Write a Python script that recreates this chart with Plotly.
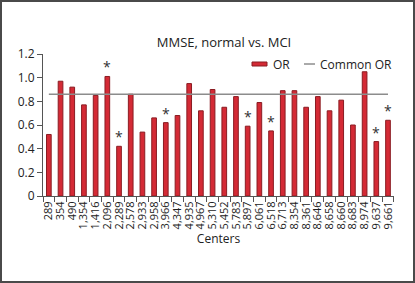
import plotly.graph_objects as go

centers = ["289", "354", "490", "1,354", "1,416", "2,096", "2,289", "2,578", "2,933", "2,958",
           "3,966", "4,347", "4,935", "4,967", "5,310", "5,452", "5,783", "5,897", "6,061", "6,518",
           "6,713", "8,354", "8,361", "8,646", "8,658", "8,660", "8,683", "8,974", "9,637", "9,661"]
odds_ratio = [0.52, 0.97, 0.92, 0.77, 0.85, 1.01, 0.42, 0.86, 0.54, 0.66,
              0.62, 0.68, 0.95, 0.72, 0.90, 0.75, 0.84, 0.59, 0.79, 0.55,
              0.89, 0.89, 0.75, 0.84, 0.72, 0.81, 0.60, 1.05, 0.46, 0.64]
significant = [False, False, False, False, False, True, True, False, False, False,
               True, False, False, False, False, False, False, True, False, True,
               False, False, False, False, False, False, False, False, True, True]
common_or = 0.86

y_ticks = [0, 0.2, 0.4, 0.6, 0.8, 1.0, 1.2]
y_tick_text = ["0", "0.2", "0.4", "0.6", "0.8", "1.0", "1.2"]

W, H = 415, 283
L, R, T, B = 43, 21, 54, 87
pw, ph = W - L - R, H - T - B

BAR_COLOR = "#d42a35"
BAR_EDGE = "#8a1c22"
LINE_COLOR = "#8c8c8c"

def px_x(p):
    return (p - L) / pw

def px_y(p):
    return (H - B - p) / ph

fig = go.Figure()
fig.add_trace(go.Bar(
    x=centers, y=odds_ratio, name="OR",
    marker=dict(color=BAR_COLOR, line=dict(color=BAR_EDGE, width=1)),
))
fig.add_trace(go.Scatter(
    x=centers, y=[common_or] * len(centers), name="Common OR", mode="lines",
    line=dict(color=LINE_COLOR, width=1.5),
))

for c, v, s in zip(centers, odds_ratio, significant):
    if s:
        fig.add_annotation(x=c, y=v, text="*", showarrow=False, yanchor="bottom",
                           yshift=-2, font=dict(size=14, color="#333333"))

# outer frame
fig.add_shape(type="rect", xref="paper", yref="paper",
              x0=px_x(1), x1=px_x(414), y0=px_y(282), y1=px_y(1),
              line=dict(color="#4a4a4a", width=2), layer="below")

# manual legend
fig.add_shape(type="rect", xref="paper", yref="paper",
              x0=px_x(252), x1=px_x(267), y0=px_y(66), y1=px_y(62),
              fillcolor=BAR_COLOR, line=dict(color=BAR_EDGE, width=1))
fig.add_annotation(xref="paper", yref="paper", x=px_x(271), y=px_y(64),
                   text="OR", showarrow=False, xanchor="left", yanchor="middle",
                   font=dict(size=12, color="#222222"))
fig.add_shape(type="line", xref="paper", yref="paper",
              x0=px_x(304), x1=px_x(315), y0=px_y(64), y1=px_y(64),
              line=dict(color="#555555", width=1))
fig.add_annotation(xref="paper", yref="paper", x=px_x(318), y=px_y(64),
                   text="Common OR", showarrow=False, xanchor="left", yanchor="middle",
                   font=dict(size=12, color="#222222"))

fig.update_layout(
    width=W, height=H,
    margin=dict(l=L, r=R, t=T, b=B, autoexpand=False),
    paper_bgcolor="white", plot_bgcolor="white",
    font=dict(family="Open Sans", color="#222222", size=11),
    title=dict(text="MMSE, normal vs. MCI", x=px_x(224), xanchor="center",
               xref="paper", y=1 - 42 / H, yanchor="middle",
               font=dict(size=13, color="#222222")),
    bargap=0.6,
    showlegend=False,
    xaxis=dict(
        type="category", tickmode="linear", dtick=1, tick0=0,
        tickangle=-90, tickson="boundaries", ticks="outside",
        ticklen=5, tickcolor="#555555", showline=True, linecolor="#555555",
        linewidth=1, showgrid=False, tickfont=dict(size=11), automargin=False,
        title=dict(text="Centers", font=dict(size=12), standoff=6),
    ),
    yaxis=dict(
        range=[0, 1.2], tickvals=y_ticks, ticktext=y_tick_text, ticks="outside",
        ticklen=5, tickcolor="#555555", showline=True, linecolor="#555555",
        linewidth=1, showgrid=False, zeroline=False, tickfont=dict(size=12),
        automargin=False,
    ),
)

fig.write_html("out.html", config={"displayModeBar": False},
               post_script="document.body.style.margin='0';document.body.style.padding='0';")
